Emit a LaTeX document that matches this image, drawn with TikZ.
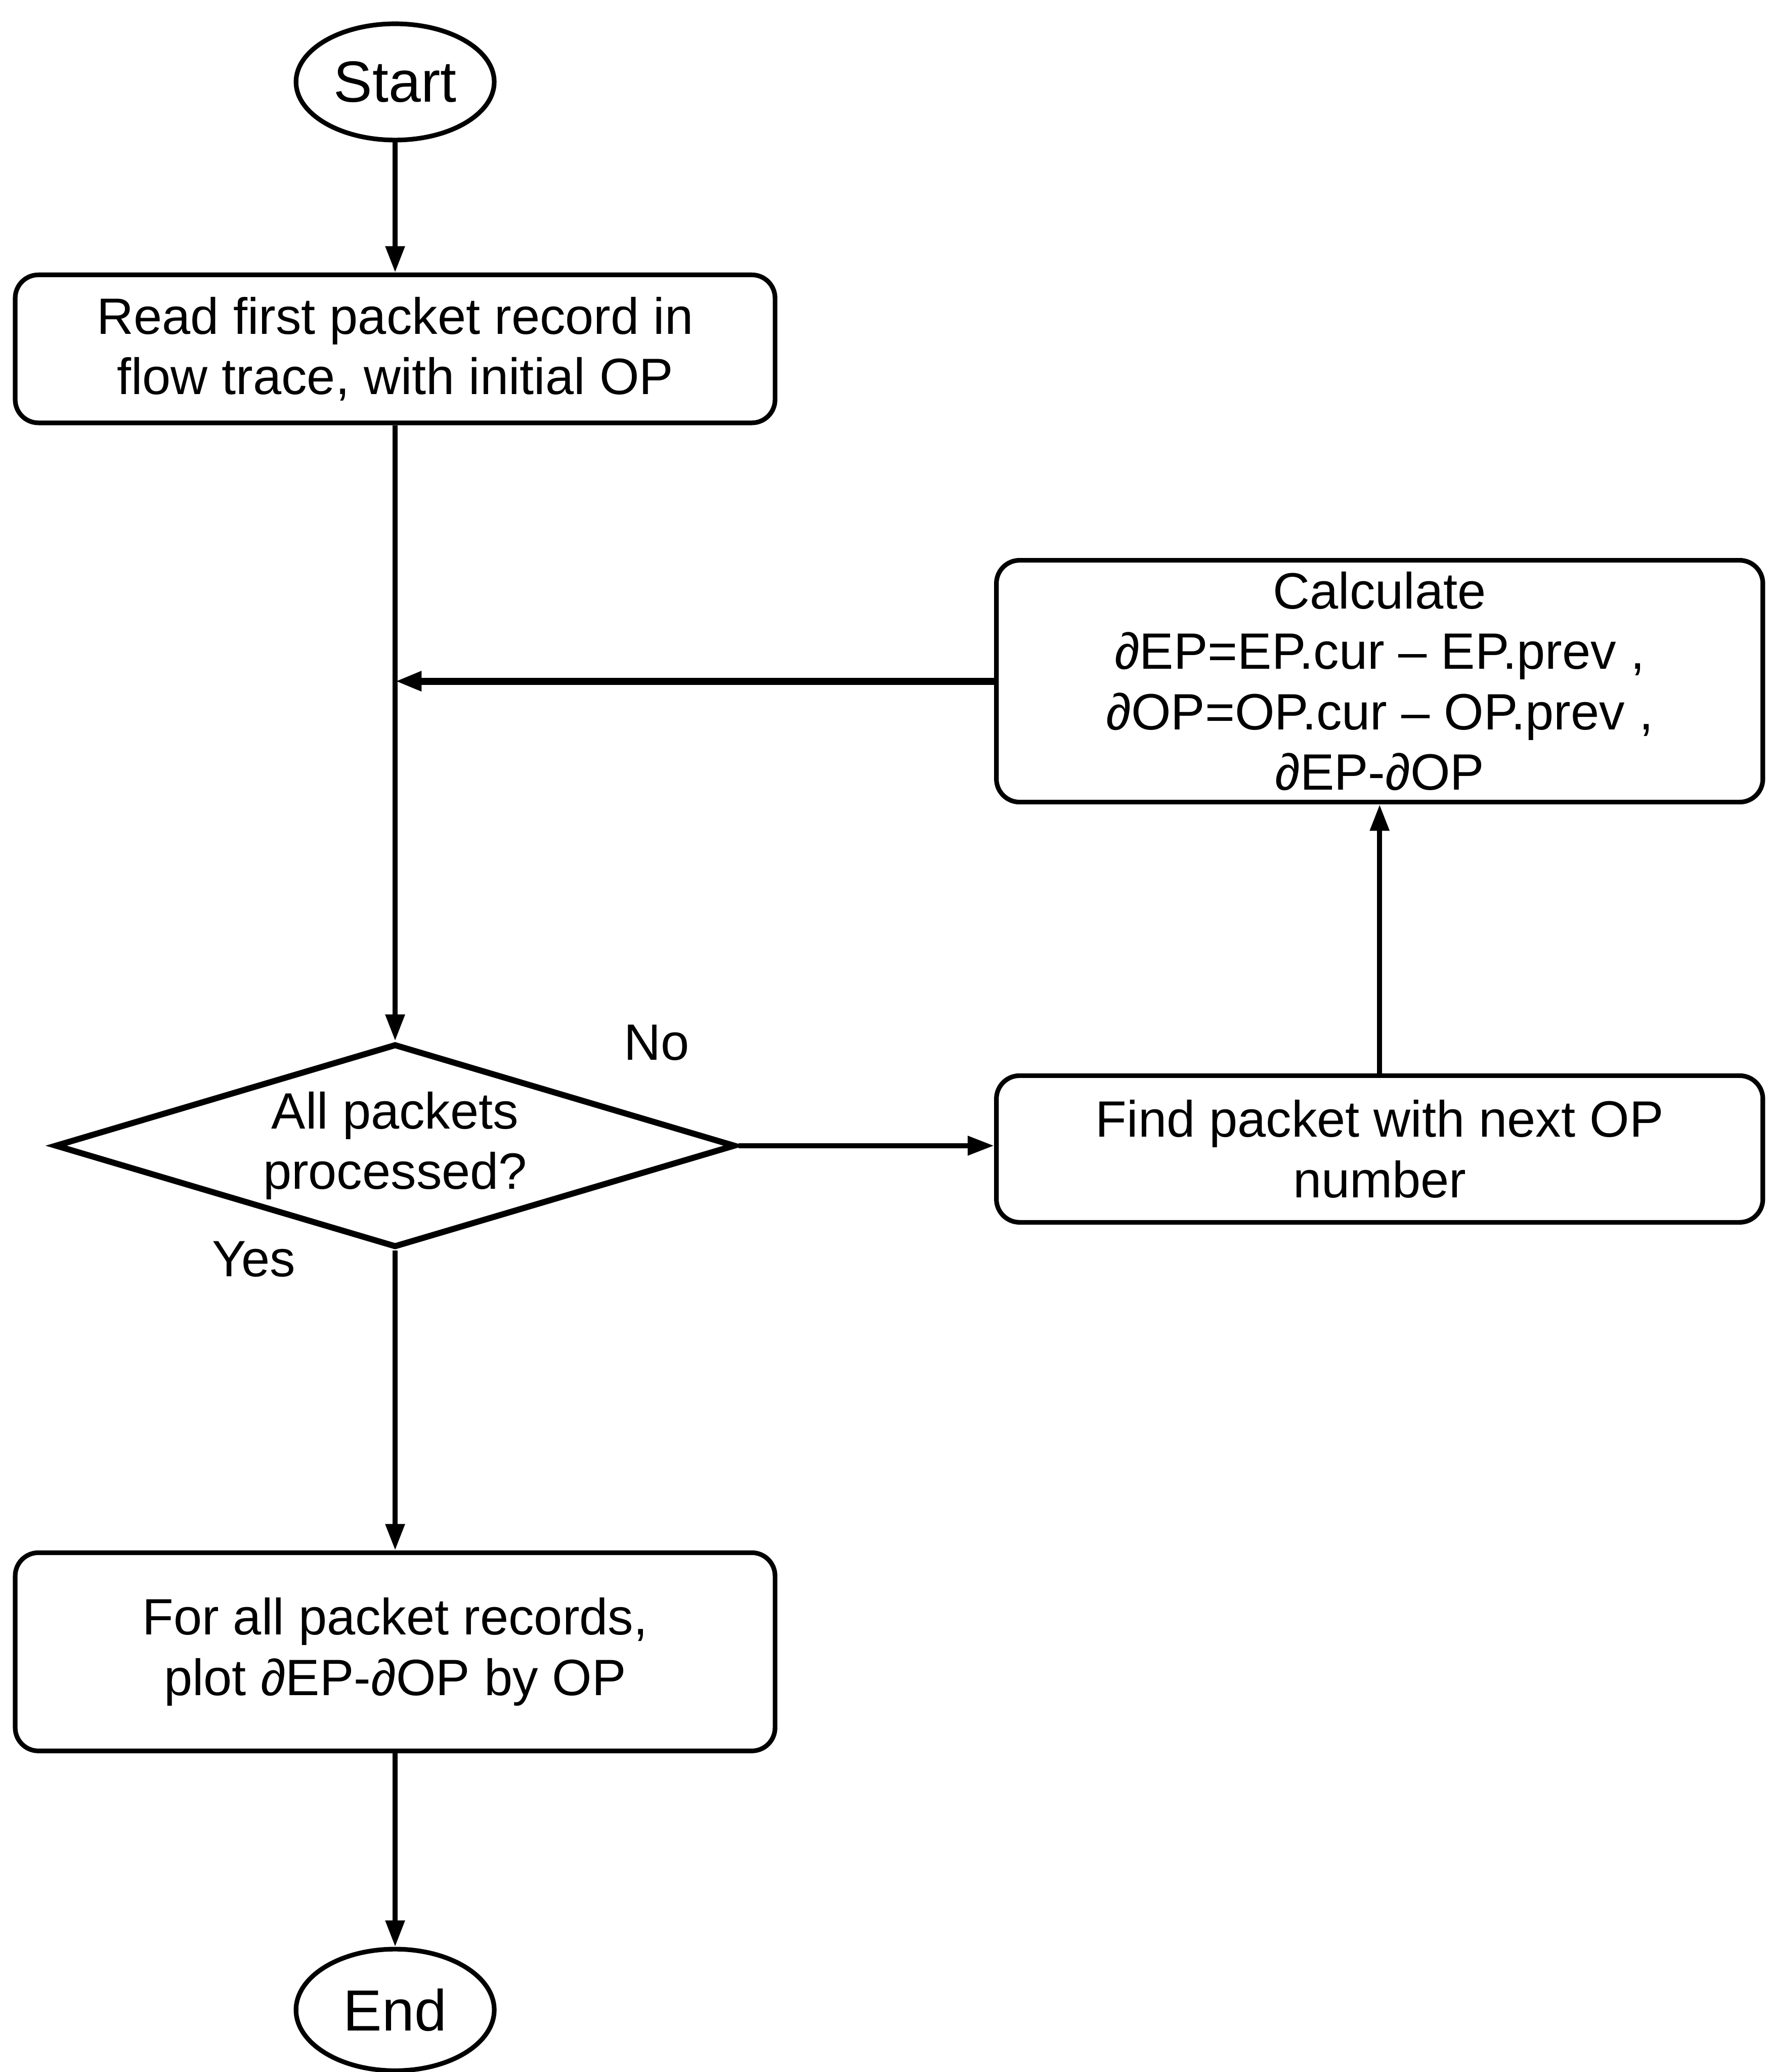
\documentclass[tikz,border=0pt]{standalone}
\usepackage{fontspec}
\setmainfont{Liberation Sans}
\usetikzlibrary{shapes.geometric,arrows.meta}

\begin{document}
\begin{tikzpicture}[
    every node/.style={font=\fontsize{11}{13}\selectfont},
    terminal/.style={ellipse, draw=black, line width=1pt, minimum width=1.5cm, minimum height=0.88cm, inner sep=0pt, font=\fontsize{12.5}{15}\selectfont},
    process/.style={rectangle, draw=black, line width=1pt, rounded corners=5pt, align=center, inner sep=0pt},
    decision/.style={diamond, draw=black, line width=1.3pt, aspect=3.34, inner sep=0pt, minimum width=5.15cm, minimum height=1.54cm, align=center},
    flow/.style={line width=1.1pt, -{Triangle[length=0.2cm,width=0.14cm]}},
    answer/.style={font=\fontsize{11}{13}\selectfont}
  ]
  \useasboundingbox (0,0) rectangle (13.37,-15.68);

  % main column
  \node[terminal] (start) at (2.99,-0.62) {Start};
  \node[process, minimum width=5.75cm, minimum height=1.12cm] (read) at (2.99,-2.64) {Read first packet record in\\flow trace, with initial OP};
  \node[decision] (done) at (2.99,-8.67) {All packets\\processed?};
  \node[process, minimum width=5.75cm, minimum height=1.50cm] (plot) at (2.99,-12.50) {For all packet records,\\plot ∂EP-∂OP by OP};
  \node[terminal, minimum height=0.92cm] (end) at (2.99,-15.21) {End};

  % loop on the right
  \node[process, minimum width=5.80cm, minimum height=1.11cm] (find) at (10.44,-8.695) {Find packet with next OP\\number};
  \node[process, minimum width=5.80cm, minimum height=1.83cm] (calc) at (10.44,-5.155) {Calculate\\∂EP=EP.cur – EP.prev ,\\∂OP=OP.cur – OP.prev ,\\∂EP-∂OP};
  \coordinate (join) at (read.south |- calc.west);

  \node[answer] (no) at (4.97,-7.89) {No};
  \node[answer] (yes) at (1.92,-9.53) {Yes};

  \draw[flow] (start) -- (read);
  \draw[flow] (read) -- (done);
  \draw[flow] (done) -- (plot);
  \draw[flow] (plot) -- (end);
  \draw[flow] (done.east) -- (find.west |- done.east);
  \draw[flow] (find) -- (calc);
  \draw[flow, line width=1.5pt] (calc.west) -- (join);
\end{tikzpicture}
\end{document}
